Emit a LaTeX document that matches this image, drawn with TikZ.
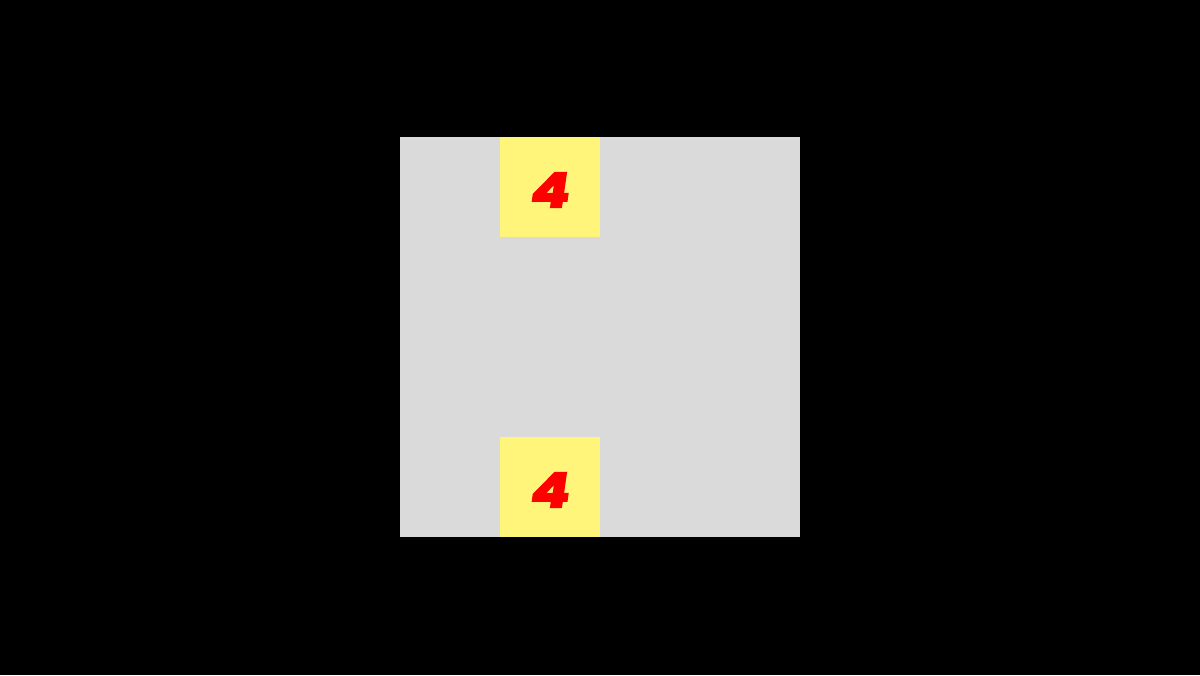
\documentclass[tikz,border=0pt]{standalone}
\usepackage{fontspec}
\newfontfamily\digitfont[FakeBold=4,FakeSlant=0.12]{Poppins}
\definecolor{bgblack}{HTML}{000000}
\definecolor{panelgrey}{HTML}{DADADA}
\definecolor{cellyellow}{HTML}{FFF57A}
\definecolor{digitred}{HTML}{FF0000}
\tikzset{
  cell/.style={fill=cellyellow, draw=none},
  digit/.style={text=digitred, font=\digitfont\bfseries\fontsize{27}{27}\selectfont, inner sep=0pt, xscale=1.2}
}
\begin{document}
\begin{tikzpicture}
\fill[bgblack] (0,0) rectangle (24,13.5);
\useasboundingbox (0,0) rectangle (24,13.5);
\fill[panelgrey] (8,2.76) rectangle (16,10.76);
\fill[cell] (10,8.76) rectangle (12,10.76);
\fill[cell] (10,2.76) rectangle (12,4.76);
\node[digit] (top) at (10.97,9.70) {4};
\node[digit] (bottom) at (10.97,3.70) {4};
\end{tikzpicture}
\end{document}
